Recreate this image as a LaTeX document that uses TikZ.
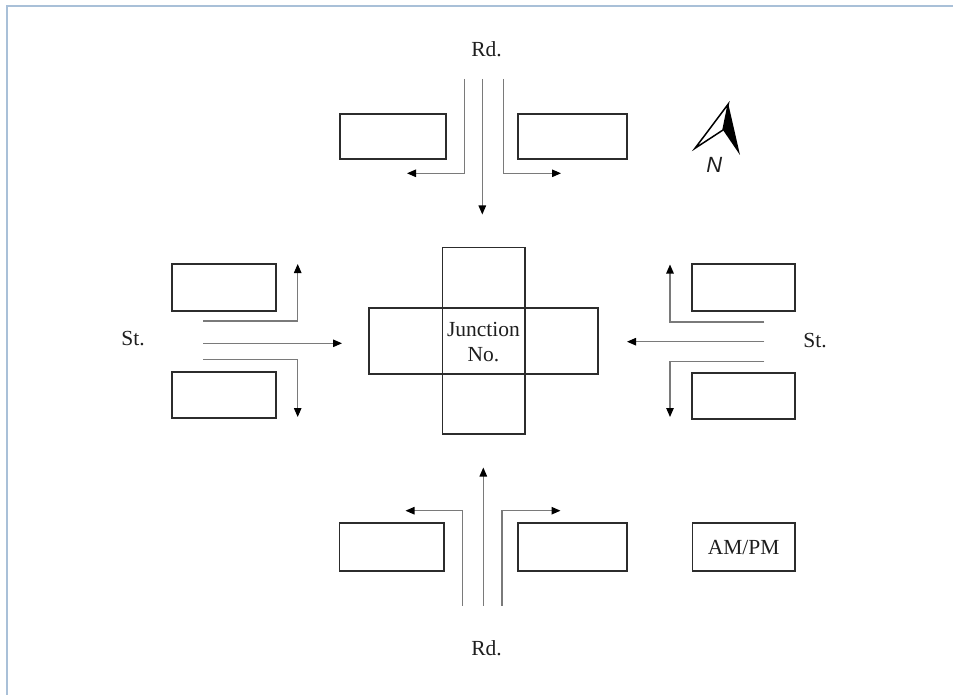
\documentclass[tikz,border=0pt]{standalone}
\usepackage{fontspec}
\setmainfont{Liberation Serif}
\newfontfamily\arrowfont{Liberation Sans}
\usetikzlibrary{arrows.meta}
\definecolor{frameblue}{HTML}{A9C0D8}
\definecolor{boxline}{HTML}{2C2C2C}
\definecolor{laneline}{HTML}{7A7A7A}
\definecolor{inktext}{HTML}{1E1E1E}
\begin{document}
\begin{tikzpicture}[x=1pt,y=-1pt,
  box/.style={draw=boxline, line width=1.7pt, inner sep=0pt, outer sep=0pt},
  countbox/.style={box, minimum width=105pt, minimum height=46pt},
  lane/.style={draw=laneline, line width=1.1pt},
  flow/.style={lane, -{Triangle[length=9pt,width=7.5pt,color=black]}},
  label/.style={text=inktext, font=\fontsize{21.5}{25}\selectfont, inner sep=0pt}
]
\useasboundingbox (0,0) rectangle (953,695);

% page frame (top and left rules)
\draw[frameblue, line width=2pt] (6.5,695) -- (6.5,6.5) -- (953,6.5);

% street names
\node[label] (rdN) at (486.5,49) {Rd.};
\node[label] (rdS) at (486.5,648) {Rd.};
\node[label] (stW) at (133,339) {St.};
\node[label] (stE) at (815,341) {St.};

% junction cross
\node[box, minimum width=82.7pt, minimum height=186.7pt] (jV) at (483.7,340.7) {};
\node[box, minimum width=228.4pt, minimum height=66.6pt] (jH) at (483.5,341) {};
\node[label, align=center] (jT) at (483.5,342) {Junction\\No.};

% count boxes, north approach
\node[countbox, minimum width=106pt, minimum height=45pt] (bNW) at (393,136.5) {};
\node[countbox, minimum width=108.5pt, minimum height=45pt] (bNE) at (572.5,136.5) {};
% count boxes, west approach
\node[countbox, minimum width=104pt, minimum height=46.7pt] (bWN) at (224,287.3) {};
\node[countbox, minimum width=104pt, minimum height=46pt] (bWS) at (224,394.7) {};
% count boxes, east approach
\node[countbox, minimum width=103pt, minimum height=47pt] (bEN) at (743.5,287.5) {};
\node[countbox, minimum width=103pt, minimum height=46pt] (bES) at (743.5,396.3) {};
% count boxes, south approach
\node[countbox, minimum width=104.7pt, minimum height=47.4pt] (bSW) at (391.7,547) {};
\node[countbox, minimum width=109pt, minimum height=47.4pt] (bSE) at (572.2,547) {};
\node[countbox, minimum width=102.7pt, minimum height=47.4pt] (bAM) at (743.7,547) {};
\node[label] (tAM) at (743.7,547.5) {AM/PM};

% lane ends, north approach
\coordinate (nLs) at (464.3,79);   \coordinate (nLe) at (407,173.3);
\coordinate (nTs) at (482.3,79);   \coordinate (nTe) at (482.3,214.5);
\coordinate (nRs) at (503.3,79);   \coordinate (nRe) at (561,173.3);
% lane ends, west approach
\coordinate (wLs) at (203.3,321);  \coordinate (wLe) at (297.7,264);
\coordinate (wTs) at (203.3,343.3);\coordinate (wTe) at (342,343.3);
\coordinate (wRs) at (203.3,359.3);\coordinate (wRe) at (297.7,417);
% lane ends, east approach
\coordinate (eLs) at (764.3,322);  \coordinate (eLe) at (670,264.5);
\coordinate (eTs) at (764.3,341.7);\coordinate (eTe) at (627,341.7);
\coordinate (eRs) at (764.3,361.7);\coordinate (eRe) at (670,417);
% lane ends, south approach
\coordinate (sLs) at (462.7,605.7);\coordinate (sLe) at (405.5,510.7);
\coordinate (sTs) at (483.3,605.7);\coordinate (sTe) at (483.3,467.5);
\coordinate (sRs) at (502,605.7);  \coordinate (sRe) at (560.5,510.7);

% turning movements
\draw[flow] (nLs) |- (nLe);
\draw[flow] (nTs) -- (nTe);
\draw[flow] (nRs) |- (nRe);
\draw[flow] (wLs) -| (wLe);
\draw[flow] (wTs) -- (wTe);
\draw[flow] (wRs) -| (wRe);
\draw[flow] (eLs) -| (eLe);
\draw[flow] (eTs) -- (eTe);
\draw[flow] (eRs) -| (eRe);
\draw[flow] (sLs) |- (sLe);
\draw[flow] (sTs) -- (sTe);
\draw[flow] (sRs) |- (sRe);

% north arrow
\fill[black] (728.3,104) -- (740,155) -- (723,130) -- cycle;
\draw[black, line width=1.5pt, line join=miter] (728.3,104) -- (695,148.3) -- (723,130) -- cycle;
\node[text=inktext, inner sep=0pt, font=\arrowfont\itshape\fontsize{22}{24}\selectfont] (north) at (714.3,165) {N};
\end{tikzpicture}
\end{document}
